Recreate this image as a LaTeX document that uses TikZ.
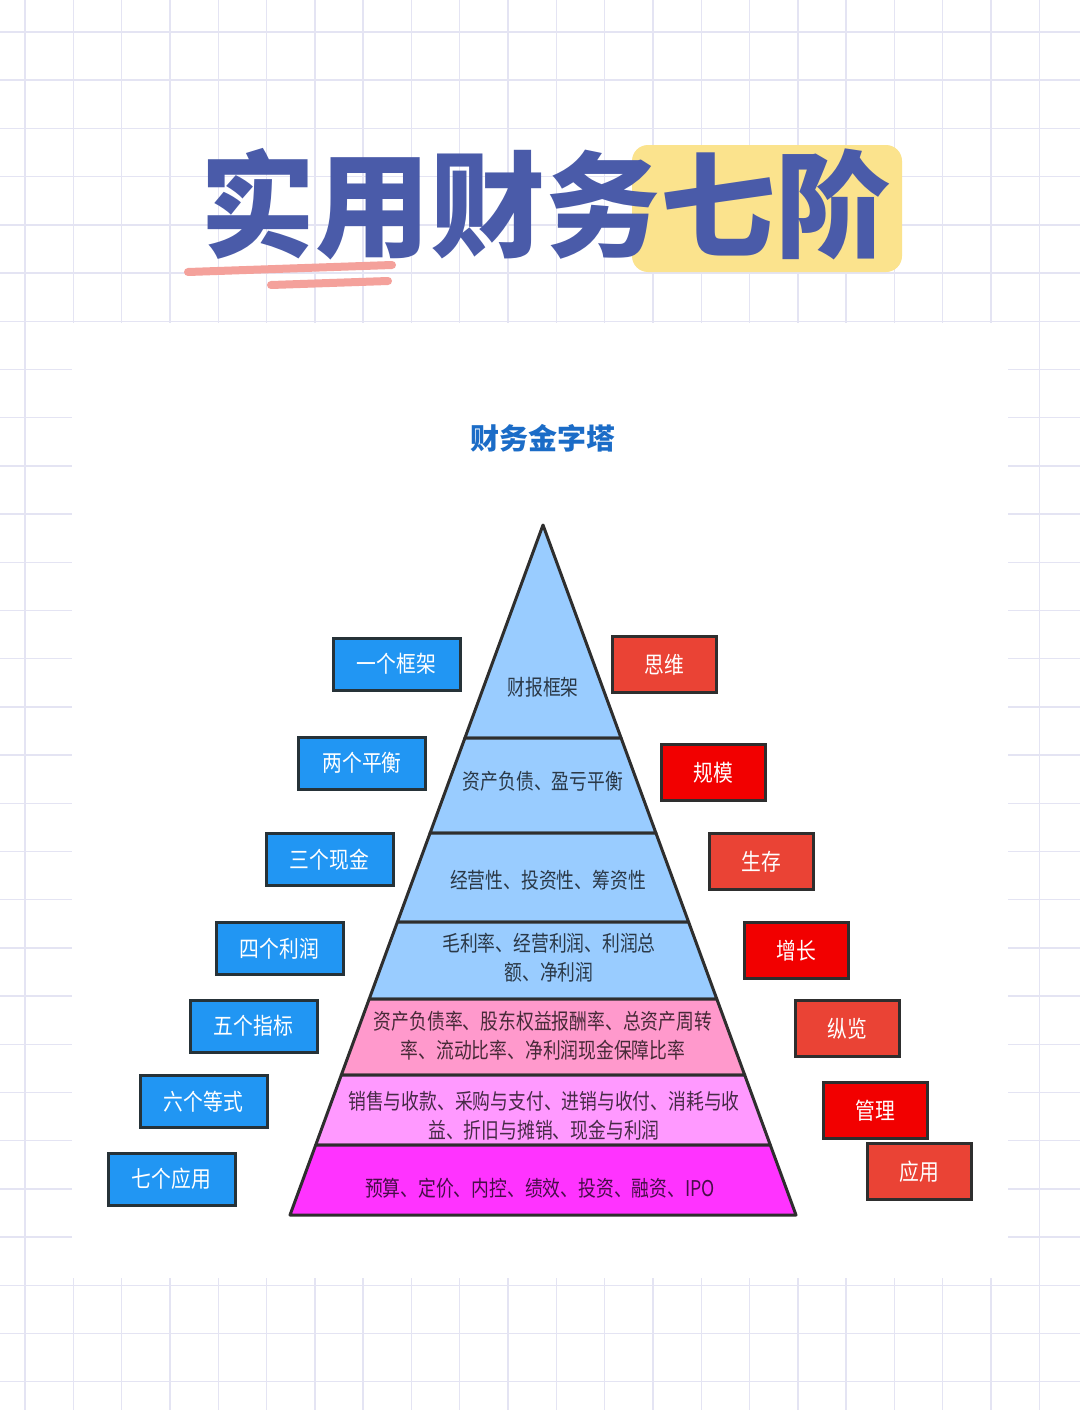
\documentclass[tikz,border=0pt]{standalone}
\usepackage{fontspec}
\setmainfont{Noto Sans CJK SC}
\newfontfamily\cjkn{Noto Sans CJK SC}[FakeStretch=0.82]
\newfontfamily\cjkbox{Noto Sans CJK SC}[FakeStretch=0.86]
\definecolor{gridc}{HTML}{E4E4F3}
\definecolor{titleblue}{HTML}{4A5BA9}
\definecolor{hlyellow}{HTML}{FBE38D}
\definecolor{pinks}{HTML}{F4A19B}
\definecolor{subblue}{HTML}{1B6CC7}
\definecolor{lblue}{HTML}{99CCFF}
\definecolor{lpink}{HTML}{FF99CC}
\definecolor{lmag}{HTML}{FF99FF}
\definecolor{mag}{HTML}{FF33FF}
\definecolor{edgec}{HTML}{2E2E2E}
\definecolor{boxblue}{HTML}{2196F3}
\definecolor{boxnavy}{HTML}{263238}
\definecolor{redA}{HTML}{EA4335}
\definecolor{redB}{HTML}{F20000}
\tikzset{
  gridline/.style={draw=gridc, line width=1.4pt},
  layer/.style={draw=edgec, line width=3pt, line join=round},
  laytext/.style={font=\cjkn\fontsize{21.7}{29}\selectfont, text=black, text opacity=0.72, align=center, inner sep=0pt},
  lbox/.style={draw=boxnavy, line width=3pt, fill=boxblue, minimum width=127pt, minimum height=52pt, inner sep=0pt, text=white, font=\cjkbox\fontsize{23}{23}\selectfont},
  rbox/.style={draw=edgec, line width=3pt, minimum width=104pt, minimum height=56pt, inner sep=0pt, text=white, font=\cjkbox\fontsize{23}{23}\selectfont},
  pinkstroke/.style={draw=pinks, line width=8pt, line cap=round}
}
\begin{document}
\begin{tikzpicture}[x=1pt,y=-1pt]
\useasboundingbox (0,0) rectangle (1080,1410);
\fill[white] (0,0) rectangle (1080,1410);
% grid paper
\foreach \i in {0,...,21} \draw[gridline] ({25+48.3*\i},0) -- ({25+48.3*\i},1410);
\foreach \j in {0,...,28} \draw[gridline] (0,{32+48.2*\j}) -- (1080,{32+48.2*\j});
\fill[white] (72,323) rectangle (1008,1278);
% title
\fill[hlyellow, rounded corners=16pt] (632,145) rectangle (902,272);
\node[inner sep=0pt, text=titleblue, font=\bfseries\fontsize{115}{115}\selectfont] (title) at (545,204) {实用财务七阶};
\draw[pinkstroke] (188,272) -- (392,265);
\draw[pinkstroke] (271,285) -- (388,281);
% subtitle
\node[inner sep=0pt, text=subblue, font=\bfseries\fontsize{29}{29}\selectfont] (sub) at (543,438) {财务金字塔};
% pyramid layers
\filldraw[layer, fill=lblue] (543,525) -- (621.1,738) -- (464.9,738) -- cycle;
\filldraw[layer, fill=lblue] (464.9,738) -- (621.1,738) -- (655.9,833) -- (430.1,833) -- cycle;
\filldraw[layer, fill=lblue] (430.1,833) -- (655.9,833) -- (688.6,922) -- (397.4,922) -- cycle;
\filldraw[layer, fill=lblue] (397.4,922) -- (688.6,922) -- (716.8,999) -- (369.2,999) -- cycle;
\filldraw[layer, fill=lpink] (369.2,999) -- (716.8,999) -- (744.7,1075) -- (341.3,1075) -- cycle;
\filldraw[layer, fill=lmag] (341.3,1075) -- (744.7,1075) -- (770.3,1145) -- (315.7,1145) -- cycle;
\filldraw[layer, fill=mag] (315.7,1145) -- (770.3,1145) -- (796,1215) -- (290,1215) -- cycle;
% layer texts
\node[laytext] (t1) at (543,687) {财报框架};
\node[laytext] (t2) at (543,781) {资产负债、盈亏平衡};
\node[laytext] (t3) at (548,880) {经营性、投资性、筹资性};
\node[laytext] (t4) at (549,958) {毛利率、经营利润、利润总\\额、净利润};
\node[laytext] (t5) at (543,1036) {资产负债率、股东权益报酬率、总资产周转\\率、流动比率、净利润现金保障比率};
\node[laytext] (t6) at (544,1116) {销售与收款、采购与支付、进销与收付、消耗与收\\益、折旧与摊销、现金与利润};
\node[laytext] (t7) at (540,1188) {预算、定价、内控、绩效、投资、融资、IPO};
% left boxes
\node[lbox] (l1) at (396.5,664) {一个框架};
\node[lbox] (l2) at (362,763) {两个平衡};
\node[lbox] (l3) at (329.5,859.5) {三个现金};
\node[lbox] (l4) at (279.5,948.5) {四个利润};
\node[lbox] (l5) at (253.5,1026) {五个指标};
\node[lbox] (l6) at (203.5,1101.5) {六个等式};
\node[lbox] (l7) at (171.5,1179) {七个应用};
% right boxes
\node[rbox, fill=redA] (r1) at (664.5,664.5) {思维};
\node[rbox, fill=redB] (r2) at (713.5,772.5) {规模};
\node[rbox, fill=redA] (r3) at (761.5,861.5) {生存};
\node[rbox, fill=redB] (r4) at (796,950.5) {增长};
\node[rbox, fill=redA] (r5) at (847,1028.5) {纵览};
\node[rbox, fill=redB] (r6) at (875,1110.5) {管理};
\node[rbox, fill=redA] (r7) at (919.5,1171.5) {应用};
\end{tikzpicture}
\end{document}
